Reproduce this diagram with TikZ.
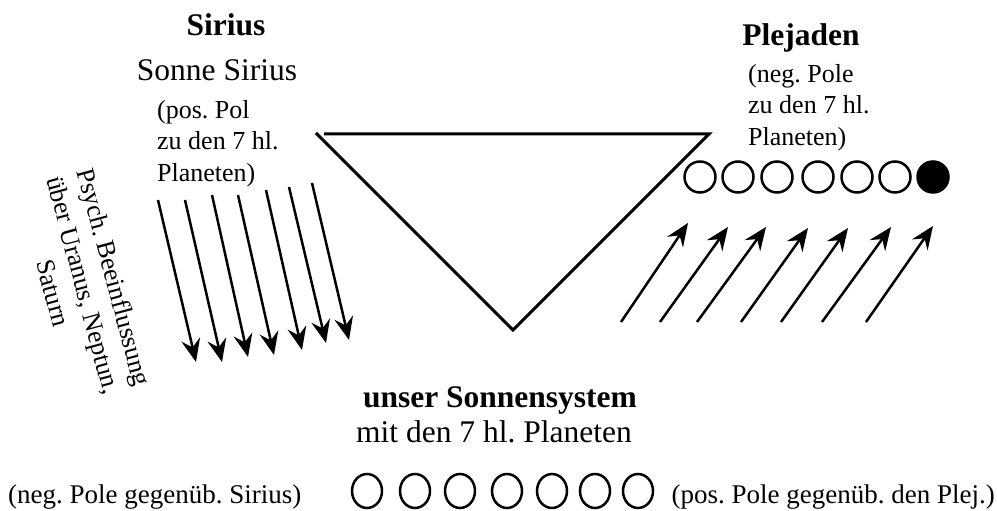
\documentclass[tikz,border=0pt]{standalone}
\usepackage{fontspec}
\setmainfont{Liberation Serif}
\usepackage{tikz}
\usetikzlibrary{arrows.meta,shapes.geometric}
\def\bigfont{\fontsize{31.5}{37.8}\selectfont}
\def\notefont{\fontsize{26}{31.5}\selectfont}
\def\polefont{\fontsize{27}{32}\selectfont}
\frenchspacing
\tikzset{
	ray/.style={line width=2.5pt, -{Stealth[length=23pt,width=19pt,inset=8pt]}},
	planet/.style={circle, draw, line width=2.5pt, minimum size=31pt, inner sep=0pt},
	oldplanet/.style={ellipse, draw, line width=2.5pt, minimum width=30pt, minimum height=34pt, inner sep=0pt},
	head/.style={inner sep=0pt, font=\bigfont\bfseries},
	big/.style={inner sep=0pt, font=\bigfont},
	note/.style={inner sep=0pt, align=left, font=\notefont},
	poletext/.style={inner sep=0pt, font=\polefont}
}

\begin{document}
\begin{tikzpicture}[x=1pt, y=1pt]
			%%%%% START %%%%%
			\useasboundingbox (0, 0) rectangle (997, 511);
			
			% Sirius
			\node[head, anchor=base] (sirius) at (226, 475) {Sirius};
			\node[big, anchor=base] (sonne) at (217, 430) {Sonne Sirius};
			\node[note, anchor=north west] (siriuspol) at (157, 411) {(pos. Pol\\zu den 7 hl.\\Planeten)};
			\node[note, align=center, rotate=-75] (psych) at (84, 226) {Psych. Beeinflussung\\über Uranus, Neptun,\\Saturn};
			
			\draw[ray] (158, 311) -- (196, 149);
			\draw[ray] (185, 311) -- (222, 149);
			\draw[ray] (212, 316) -- (248, 154);
			\draw[ray] (238, 316) -- (274, 156);
			\draw[ray] (266, 321) -- (302, 161);
			\draw[ray] (289, 324) -- (326, 168);
			\draw[ray] (312, 328) -- (349, 171);
			
			% triangle
			\coordinate (topleft) at (316, 378);
			\coordinate (topstart) at (324, 377);
			\coordinate (topright) at (709, 377);
			\coordinate (bottom) at (513, 181);
			\draw[line width=3pt, line join=miter] (topstart) -- (topright) -- (bottom) -- (topleft);
			
			% Plejaden
			\node[head, anchor=base] (plejaden) at (801, 465) {Plejaden};
			\node[note, anchor=north west] (plejpol) at (748, 447) {(neg. Pole\\zu den 7 hl.\\Planeten)};
			
			\node[planet] (pl1) at (700, 334) {};
			\node[planet] (pl2) at (738, 334) {};
			\node[planet] (pl3) at (777, 334) {};
			\node[planet] (pl4) at (818, 334) {};
			\node[planet] (pl5) at (857, 334) {};
			\node[planet] (pl6) at (895, 334) {};
			\node[planet, fill=black] (pl7) at (933, 334) {};
			
			\draw[ray] (621, 189) -- (688, 288);
			\draw[ray] (660, 189) -- (728, 284);
			\draw[ray] (697, 189) -- (766, 284);
			\draw[ray] (741, 189) -- (808, 283);
			\draw[ray] (781, 189) -- (848, 283);
			\draw[ray] (822, 189) -- (891, 284);
			\draw[ray] (866, 189) -- (933, 285);
			
			% unser Sonnensystem
			\node[head, anchor=base] (system) at (500, 103) {unser Sonnensystem};
			\node[big, anchor=base] (planeten) at (494, 68) {mit den 7 hl. Planeten};
			
			\node[oldplanet] (so1) at (367, 20) {};
			\node[oldplanet] (so2) at (415, 20) {};
			\node[oldplanet] (so3) at (460, 20) {};
			\node[oldplanet] (so4) at (507, 20) {};
			\node[oldplanet] (so5) at (552, 20) {};
			\node[oldplanet] (so6) at (595, 20) {};
			\node[oldplanet] (so7) at (638, 20) {};
			
			\node[poletext, anchor=base west] (negpole) at (8, 7) {(neg. Pole gegenüb. Sirius)};
			\node[poletext, anchor=base east] (pospole) at (995, 7) {(pos. Pole gegenüb. den Plej.)};
			
			%%%%% END %%%%%
\end{tikzpicture}
\end{document}
